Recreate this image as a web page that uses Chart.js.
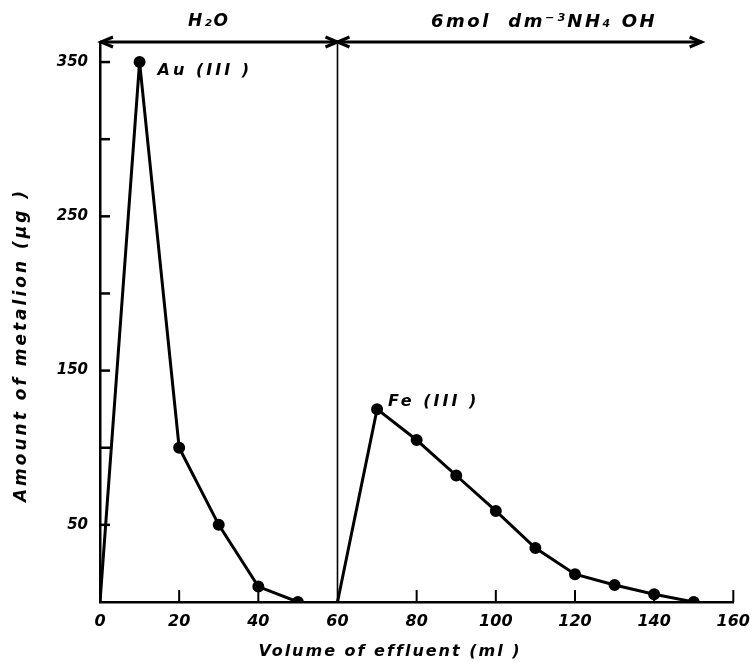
<!DOCTYPE html>
<html>
<head>
<meta charset="utf-8">
<script src="https://cdn.jsdelivr.net/npm/chart.js@4.4.0/dist/chart.umd.min.js"></script>
<style>
  html, body { margin: 0; padding: 0; background: #fff; }
</style>
</head>
<body>
<canvas id="effluentChart" width="752" height="665"></canvas>
<script>
// Au(III) eluted with water, Fe(III) eluted with ammonia
const auVolume = [0, 10, 20, 30, 40, 50];
const auAmount = [0, 350, 100, 50, 10, 0];
const feVolume = [60, 70, 80, 90, 100, 110, 120, 130, 140, 150];
const feAmount = [0, 125, 105, 82, 59, 35, 18, 11, 5, 0];

const xTicks = [0, 20, 40, 60, 80, 100, 120, 140, 160];
const yTicks = [50, 100, 150, 200, 250, 300, 350];
const yLabelled = [50, 150, 250, 350];

const eluentSwitch = 60;   // ml where eluent changes
const arrowEnd = 152;      // ml where the NH4OH arrow stops

function toPoints(xs, ys) {
  return xs.map((x, i) => ({ x: x, y: ys[i] }));
}

// draws the inward ticks, eluent arrows and text labels
const decorations = {
  id: 'decorations',
  afterDraw(chart) {
    const ctx = chart.ctx;
    const xs = chart.scales.x;
    const ys = chart.scales.y;
    const area = chart.chartArea;
    ctx.save();
    ctx.strokeStyle = '#000';
    ctx.fillStyle = '#000';
    ctx.lineCap = 'butt';

    // y ticks (pointing inward)
    ctx.lineWidth = 2.5;
    yTicks.forEach(v => {
      const py = ys.getPixelForValue(v);
      ctx.beginPath();
      ctx.moveTo(area.left, py);
      ctx.lineTo(area.left + 10, py);
      ctx.stroke();
    });
    // x ticks (pointing up)
    ctx.lineWidth = 2;
    xTicks.forEach(v => {
      if (v === 0 || v === eluentSwitch) return;
      const px = xs.getPixelForValue(v);
      ctx.beginPath();
      ctx.moveTo(px, area.bottom);
      ctx.lineTo(px, area.bottom - 12);
      ctx.stroke();
    });

    // separator line
    const sx = xs.getPixelForValue(eluentSwitch);
    ctx.lineWidth = 1.6;
    ctx.beginPath();
    ctx.moveTo(sx, area.top);
    ctx.lineTo(sx, area.bottom);
    ctx.stroke();

    // top arrows
    const ay = area.top;
    const ex = xs.getPixelForValue(arrowEnd);
    ctx.lineWidth = 3;
    ctx.beginPath();
    ctx.moveTo(area.left, ay);
    ctx.lineTo(ex, ay);
    ctx.stroke();
    function head(x, dir) {
      ctx.beginPath();
      ctx.moveTo(x - dir * 12, ay - 5);
      ctx.lineTo(x, ay);
      ctx.lineTo(x - dir * 12, ay + 5);
      ctx.stroke();
    }
    head(area.left + 1, -1);
    head(sx, 1);
    head(sx, -1);
    head(ex, 1);

    // labels
    ctx.textBaseline = 'middle';
    ctx.textAlign = 'center';
    ctx.font = 'bold italic 17px "DejaVu Sans", sans-serif';
    ctx.letterSpacing = '2px';
    ctx.fillText('H\u2082O', 209, 22);
    ctx.font = 'bold italic 18px "DejaVu Sans", sans-serif';
    ctx.letterSpacing = '2.5px';
    ctx.fillText('6mol  dm\u207B\u00B3NH\u2084 OH', 544, 22);

    ctx.textAlign = 'left';
    ctx.font = 'bold italic 16px "DejaVu Sans", sans-serif';
    ctx.letterSpacing = '3px';
    const au = { x: xs.getPixelForValue(auVolume[1]), y: ys.getPixelForValue(auAmount[1]) };
    ctx.fillText('Au (III )', au.x + 18, au.y + 9);
    const fe = { x: xs.getPixelForValue(feVolume[1]), y: ys.getPixelForValue(feAmount[1]) };
    ctx.fillText('Fe (III )', fe.x + 11, fe.y - 7);

    // axis titles
    ctx.font = 'bold italic 16px "DejaVu Sans", sans-serif';
    ctx.textAlign = 'center';
    ctx.letterSpacing = '2px';
    ctx.fillText('Volume of effluent (ml )', 390, 652);
    ctx.font = 'bold italic 17px "DejaVu Sans", sans-serif';
    ctx.letterSpacing = '3px';
    ctx.translate(22, 345);
    ctx.rotate(-Math.PI / 2);
    ctx.fillText('Amount of metalion (\u03BCg )', 0, 0);
    ctx.restore();
  }
};

const ctx = document.getElementById('effluentChart').getContext('2d');
new Chart(ctx, {
  type: 'line',
  data: {
    datasets: [
      {
        label: 'Au (III)',
        data: toPoints(auVolume, auAmount),
        borderColor: '#000',
        backgroundColor: '#000',
        borderWidth: 3,
        pointRadius: auVolume.map((v, i) => i === 0 ? 0 : 4.5),
        tension: 0,
      },
      {
        label: 'Fe (III)',
        data: toPoints(feVolume, feAmount),
        borderColor: '#000',
        backgroundColor: '#000',
        borderWidth: 3,
        pointRadius: feVolume.map((v, i) => i === 0 ? 0 : 4.5),
        tension: 0,
      },
    ],
  },
  options: {
    responsive: false,
    animation: false,
    layout: { padding: { left: 0, top: 42, right: 16, bottom: 0 } },
    plugins: {
      legend: { display: false },
      tooltip: { enabled: false },
    },
    scales: {
      x: {
        type: 'linear',
        min: 0,
        max: 160,
        grid: { display: false },
        border: { display: true, color: '#000', width: 2.5 },
        afterBuildTicks: axis => { axis.ticks = xTicks.map(v => ({ value: v })); },
        afterFit: axis => { axis.height = 63; },
        ticks: {
          autoSkip: false,
          maxRotation: 0,
          padding: 2,
          color: '#000',
          font: { family: '"DejaVu Sans", sans-serif', size: 16, weight: 'bold', style: 'italic' },
        },
      },
      y: {
        type: 'linear',
        min: 0,
        max: 363,
        grid: { display: false },
        border: { display: true, color: '#000', width: 2.5 },
        afterBuildTicks: axis => { axis.ticks = yTicks.map(v => ({ value: v })); },
        afterFit: axis => { axis.width = 100; },
        ticks: {
          padding: 4,
          color: '#000',
          font: { family: '"DejaVu Sans", sans-serif', size: 15, weight: 'bold', style: 'italic' },
          callback: v => yLabelled.includes(v) ? String(v) : '',
        },
      },
    },
  },
  plugins: [decorations],
});
</script>
</body>
</html>
